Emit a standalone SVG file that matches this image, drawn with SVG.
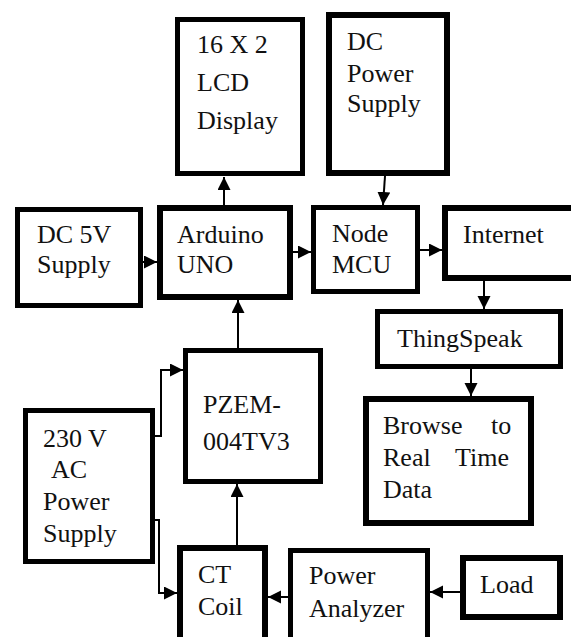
<svg xmlns="http://www.w3.org/2000/svg" width="571" height="637" viewBox="0 0 571 637">
<style>
.box{fill:#fff;stroke:#000}
.t{font-family:"Liberation Serif","Times New Roman",serif;font-size:26px;fill:#111}
.c{fill:none;stroke:#000;stroke-width:2}
</style>
<defs>
<marker id="ah" markerUnits="userSpaceOnUse" markerWidth="14" markerHeight="14" refX="13" refY="6.5" orient="auto">
<path d="M0,0 L13,6.5 L0,13 Z" fill="#000"/>
</marker>
</defs>
<rect width="571" height="637" fill="#fff"/>
<g id="connectors">
<line class="c" x1="224" y1="205" x2="224" y2="177" marker-end="url(#ah)"/>
<line class="c" x1="385" y1="176" x2="383" y2="205" marker-end="url(#ah)"/>
<line class="c" x1="143" y1="262" x2="157" y2="262" marker-end="url(#ah)"/>
<line class="c" x1="293" y1="252" x2="311" y2="252" marker-end="url(#ah)"/>
<line class="c" x1="420" y1="250" x2="442" y2="250" marker-end="url(#ah)"/>
<line class="c" x1="484" y1="281" x2="484" y2="309" marker-end="url(#ah)"/>
<line class="c" x1="471" y1="369" x2="471" y2="396" marker-end="url(#ah)"/>
<line class="c" x1="238" y1="348" x2="238" y2="300" marker-end="url(#ah)"/>
<line class="c" x1="237" y1="545" x2="237" y2="484" marker-end="url(#ah)"/>
<polyline class="c" points="155,436 161,436 161,370 183,370" marker-end="url(#ah)"/>
<polyline class="c" points="155,520 159,520 159,593 177,593" marker-end="url(#ah)"/>
<line class="c" x1="288" y1="597" x2="268" y2="597" marker-end="url(#ah)"/>
<line class="c" x1="460" y1="592" x2="430" y2="592" marker-end="url(#ah)"/>
</g>
<g id="lcd">
<rect class="box" x="177.5" y="19.5" width="125" height="154" stroke-width="5"/>
<text class="t" x="197" y="53">16 X 2</text>
<text class="t" x="197" y="91">LCD</text>
<text class="t" x="197" y="129">Display</text>
</g>
<g id="dc-power-supply">
<rect class="box" x="329" y="15" width="118" height="158" stroke-width="6"/>
<text class="t" x="347" y="50">DC</text>
<text class="t" x="347" y="82">Power</text>
<text class="t" x="347" y="112">Supply</text>
</g>
<g id="dc-5v">
<rect class="box" x="17.5" y="209.5" width="123" height="96" stroke-width="5"/>
<text class="t" x="37" y="243">DC 5V</text>
<text class="t" x="37" y="273">Supply</text>
</g>
<g id="arduino">
<rect class="box" x="160" y="208" width="130" height="89" stroke-width="6"/>
<text class="t" x="177" y="243">Arduino</text>
<text class="t" x="177" y="273">UNO</text>
</g>
<g id="nodemcu">
<rect class="box" x="313.5" y="207.5" width="104" height="84" stroke-width="5"/>
<text class="t" x="332" y="242">Node</text>
<text class="t" x="332" y="273">MCU</text>
</g>
<g id="internet">
<rect class="box" x="445" y="208" width="140" height="70" stroke-width="6"/>
<text class="t" x="463" y="243">Internet</text>
</g>
<g id="thingspeak">
<rect class="box" x="377.5" y="311.5" width="183" height="55" stroke-width="5"/>
<text class="t" x="397" y="347">ThingSpeak</text>
</g>
<g id="pzem">
<rect class="box" x="185.5" y="350.5" width="135" height="131" stroke-width="5"/>
<text class="t" x="203" y="413">PZEM-</text>
<text class="t" x="203" y="450">004TV3</text>
</g>
<g id="browse">
<rect class="box" x="366" y="399" width="165" height="124" stroke-width="6"/>
<text class="t" y="434"><tspan x="383">Browse</tspan><tspan x="491">to</tspan></text>
<text class="t" y="466"><tspan x="383">Real</tspan><tspan x="455">Time</tspan></text>
<text class="t" x="383" y="498">Data</text>
</g>
<g id="ac-supply">
<rect class="box" x="25.5" y="410.5" width="127" height="151" stroke-width="5"/>
<text class="t" x="43" y="447">230 V</text>
<text class="t" x="51" y="478">AC</text>
<text class="t" x="43" y="510">Power</text>
<text class="t" x="43" y="542">Supply</text>
</g>
<g id="ct-coil">
<rect class="box" x="180" y="548" width="85" height="100" stroke-width="6"/>
<text class="t" x="198" y="583">CT</text>
<text class="t" x="198" y="615">Coil</text>
</g>
<g id="power-analyzer">
<rect class="box" x="290.5" y="550.5" width="137" height="100" stroke-width="5"/>
<text class="t" x="309" y="584">Power</text>
<text class="t" x="309" y="617">Analyzer</text>
</g>
<g id="load">
<rect class="box" x="463" y="558" width="97" height="59" stroke-width="6"/>
<text class="t" x="480" y="593">Load</text>
</g>
</svg>
